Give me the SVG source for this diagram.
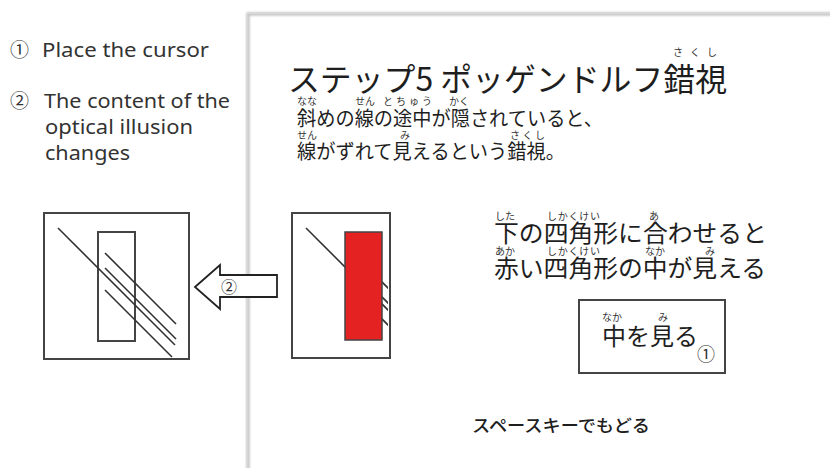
<svg xmlns="http://www.w3.org/2000/svg" width="830" height="468" viewBox="0 0 830 468">
  <style>
    .note { font-family: "Noto Sans", "Liberation Sans", sans-serif; font-size: 20px; fill: #333; }
    .num { font-family: "Noto Sans CJK JP", "DejaVu Sans", sans-serif; fill: #333; }
    .jp { font-family: "Noto Sans CJK JP", "Noto Sans CJK SC", sans-serif; fill: #1e1e1e; }
    .ruby { font-family: "Noto Sans CJK JP", "Noto Sans CJK SC", sans-serif; font-size: 10px; fill: #333; }
    .frame { fill: #fff; stroke: #444; stroke-width: 2; }
    .ln { stroke: #333; stroke-width: 1.6; fill: none; }
  </style>
  <defs>
    <filter id="shadow" x="-5%" y="-5%" width="110%" height="110%">
      <feGaussianBlur stdDeviation="1.2"/>
    </filter>
    <clipPath id="midClip">
      <rect x="293" y="214" width="95" height="143"/>
    </clipPath>
  </defs>

  <rect width="830" height="468" fill="#fff"/>

  <!-- screen panel -->
  <g id="panel">
    <path d="M248 470 V14 H832" fill="none" stroke="#bbb" stroke-width="3" filter="url(#shadow)"/>
    <path d="M247.5 470 V13.5 H832" fill="none" stroke="#d6d6d6" stroke-width="1.5"/>
  </g>

  <!-- instructions -->
  <g id="instructions">
    <text class="num" x="10" y="57" font-size="19">①</text>
    <text class="note" x="42" y="57" textLength="167" lengthAdjust="spacingAndGlyphs">Place the cursor</text>
    <text class="num" x="10" y="108" font-size="19">②</text>
    <text class="note" x="44" y="108" textLength="186" lengthAdjust="spacingAndGlyphs">The content of the</text>
    <text class="note" x="45" y="134" textLength="148" lengthAdjust="spacingAndGlyphs">optical illusion</text>
    <text class="note" x="45" y="160" textLength="85" lengthAdjust="spacingAndGlyphs">changes</text>
  </g>

  <!-- title -->
  <g id="title">
    <text class="ruby" x="673" y="56" font-size="13" textLength="44">さくし</text>
    <text class="jp" x="288" y="91" font-size="32" textLength="439" lengthAdjust="spacingAndGlyphs">ステップ5 ポッゲンドルフ錯視</text>
  </g>

  <!-- description -->
  <g id="description">
    <text class="ruby" x="297" y="105">なな</text>
    <text class="ruby" x="355" y="105">せん</text>
    <text class="ruby" x="383" y="105" textLength="49">とちゅう</text>
    <text class="ruby" x="449" y="105">かく</text>
    <text class="jp" x="297" y="126" font-size="20" textLength="306" lengthAdjust="spacingAndGlyphs">斜めの線の途中が隠されていると、</text>
    <text class="ruby" x="297" y="139">せん</text>
    <text class="ruby" x="400" y="139">み</text>
    <text class="ruby" x="510" y="139" textLength="35">さくし</text>
    <text class="jp" x="297" y="159" font-size="20" textLength="268" lengthAdjust="spacingAndGlyphs">線がずれて見えるという錯視。</text>
  </g>

  <!-- revealed figure -->
  <g id="figure-revealed">
    <rect class="frame" x="44" y="213" width="145" height="146"/>
    <rect x="98" y="232" width="37" height="109" fill="none" stroke="#444" stroke-width="2"/>
    <line class="ln" x1="58" y1="228" x2="175" y2="345"/>
    <line class="ln" x1="105" y1="253" x2="176" y2="324"/>
    <line class="ln" x1="105" y1="268" x2="176" y2="339"/>
    <line class="ln" x1="105" y1="290" x2="172" y2="357"/>
  </g>

  <!-- arrow -->
  <g id="arrow">
    <path d="M195 287 L220 265 V275 H277 V297 H220 V309 Z" fill="#fff" stroke="#222" stroke-width="1.8" stroke-linejoin="miter"/>
    <text class="num" x="229" y="293" font-size="16" text-anchor="middle">②</text>
  </g>

  <!-- hidden figure -->
  <g id="figure-hidden">
    <rect class="frame" x="292" y="213" width="98" height="145"/>
    <g clip-path="url(#midClip)">
      <line class="ln" x1="306" y1="228" x2="423" y2="345"/>
      <line class="ln" x1="353" y1="253" x2="424" y2="324"/>
      <line class="ln" x1="353" y1="268" x2="424" y2="339"/>
      <line class="ln" x1="353" y1="290" x2="420" y2="357"/>
    </g>
    <rect x="345" y="232" width="37" height="108" fill="#e52222" stroke="#444" stroke-width="1.5"/>
  </g>

  <!-- hint -->
  <g id="hint">
    <text class="ruby" x="495" y="220">した</text>
    <text class="ruby" x="547" y="220" textLength="53">しかくけい</text>
    <text class="ruby" x="649" y="220">あ</text>
    <text class="jp" x="494" y="242" font-size="24" textLength="273" lengthAdjust="spacingAndGlyphs">下の四角形に合わせると</text>
    <text class="ruby" x="495" y="255">あか</text>
    <text class="ruby" x="547" y="255" textLength="53">しかくけい</text>
    <text class="ruby" x="645" y="255">なか</text>
    <text class="ruby" x="705" y="255">み</text>
    <text class="jp" x="494" y="277" font-size="24" textLength="272" lengthAdjust="spacingAndGlyphs">赤い四角形の中が見える</text>
  </g>

  <!-- button -->
  <g id="button">
    <rect x="579" y="300" width="146" height="73" fill="#fff" stroke="#444" stroke-width="2"/>
    <text class="ruby" x="602" y="321">なか</text>
    <text class="ruby" x="658" y="321">み</text>
    <text class="jp" x="602" y="345" font-size="24" textLength="96" lengthAdjust="spacingAndGlyphs">中を見る</text>
    <text class="num" x="706" y="361" font-size="18" text-anchor="middle" fill="#111">①</text>
  </g>

  <!-- footer -->
  <g id="footer">
    <text class="jp" x="472" y="432" font-size="17.5" font-weight="500" fill="#3a3a3a" textLength="178" lengthAdjust="spacingAndGlyphs">スペースキーでもどる</text>
  </g>
</svg>
